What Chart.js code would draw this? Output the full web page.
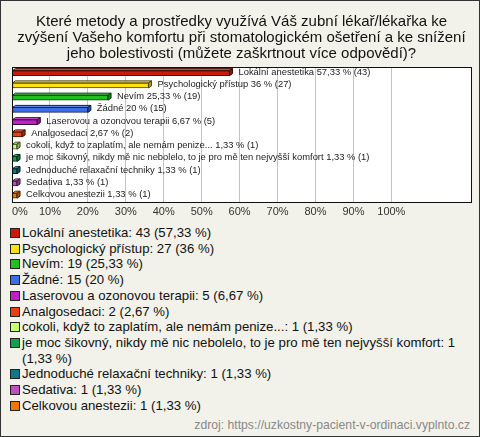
<!DOCTYPE html>
<html><head><meta charset="utf-8">
<script src="https://cdn.jsdelivr.net/npm/chart.js@4/dist/chart.umd.min.js"></script>
<style>
html,body{margin:0;padding:0;}
body{width:480px;height:437px;overflow:hidden;background:#fff;}
#wrap{position:relative;width:480px;height:437px;box-sizing:border-box;border:1px solid #333;background:#f3f2ea;font-family:"Liberation Sans",Arial,sans-serif;}
#cv{position:absolute;left:-1px;top:-1px;}
#legend{position:absolute;left:9px;top:224px;width:462px;font-size:13.2px;line-height:15.7px;color:#111;}
.it{display:flex;align-items:flex-start;}
.bx{flex:none;width:8px;height:8px;border:1px solid #222;margin:3px 2px 0 0;}
#src{position:absolute;right:9px;top:417px;font-size:12.2px;color:#888;}
</style></head>
<body><div id="wrap"><canvas id="cv" width="480" height="225"></canvas><div id="legend"></div><div id="src">zdroj: https://uzkostny-pacient-v-ordinaci.vyplnto.cz</div></div>
<script>
const titleLines = ["Které metody a prostředky využívá Váš zubní lékař/lékařka ke","zvýšení Vašeho komfortu při stomatologickém ošetření a ke snížení","jeho bolestivosti (můžete zaškrtnout více odpovědí)?"];
const categories = ["Lokální anestetika","Psychologický přístup","Nevím","Žádné","Laserovou a ozonovou terapii","Analgosedaci","cokoli, když to zaplatím, ale nemám penize...","je moc šikovný, nikdy mě nic nebolelo, to je pro mě ten nejvyšší komfort","Jednoduché relaxační techniky","Sedativa","Celkovou anestezii"];
const counts = [43,27,19,15,5,2,1,1,1,1,1];
const percents = [57.33,36,25.33,20,6.67,2.67,1.33,1.33,1.33,1.33,1.33];
const colors = ["#cc1a0a","#ffe010","#20c020","#3c6ee8","#c020c8","#e84010","#c8ff70","#10a050","#107888","#c050c0","#f07800"];
const tickValues = [0,10,20,30,40,50,60,70,80,90,100,120];

function fmt(p){return String(p).replace('.',',');}
function shade(hex,f){
  const n=parseInt(hex.slice(1),16);let r=n>>16,g=(n>>8)&255,b=n&255;
  if(f<0){r=Math.round(r*(1+f));g=Math.round(g*(1+f));b=Math.round(b*(1+f));}
  else{r=Math.round(r+(255-r)*f);g=Math.round(g+(255-g)*f);b=Math.round(b+(255-b)*f);}
  return `rgb(${r},${g},${b})`;
}

const bar3d = {
  id:'bar3d',
  beforeDraw(chart){
    const a=chart.chartArea,ctx=chart.ctx;
    ctx.save();ctx.fillStyle='#fff';ctx.fillRect(a.left,a.top,a.right-a.left,a.bottom-a.top);ctx.restore();
  },
  afterDatasetsDraw(chart){
    const ctx=chart.ctx,meta=chart.getDatasetMeta(0),dx=3,dy=2;
    ctx.save();
    meta.data.forEach((el,i)=>{
      const p=el.getProps(['x','y','base','height'],true);
      const l=Math.min(p.base,p.x),r=Math.max(p.base,p.x),t=p.y-p.height/2,b=p.y+p.height/2;
      const c=colors[i];
      ctx.lineWidth=1;ctx.strokeStyle=shade(c,-0.7);
      ctx.fillStyle=shade(c,0.25);
      ctx.beginPath();ctx.moveTo(l,t);ctx.lineTo(l+dx,t-dy);ctx.lineTo(r+dx,t-dy);ctx.lineTo(r,t);ctx.closePath();ctx.fill();ctx.stroke();
      ctx.fillStyle=shade(c,-0.3);
      ctx.beginPath();ctx.moveTo(r,t);ctx.lineTo(r+dx,t-dy);ctx.lineTo(r+dx,b-dy);ctx.lineTo(r,b);ctx.closePath();ctx.fill();ctx.stroke();
      ctx.fillStyle='#222';ctx.font='9.4px "Liberation Sans",Arial,sans-serif';ctx.textBaseline='middle';
      ctx.fillText(`${categories[i]} ${fmt(percents[i])} % (${counts[i]})`, r+dx+6, p.y-1);
    });
    ctx.restore();
  },
  afterDraw(chart){
    const a=chart.chartArea,ctx=chart.ctx;
    ctx.save();ctx.strokeStyle='#111';ctx.lineWidth=1;
    ctx.strokeRect(Math.round(a.left)+0.5,Math.round(a.top)+0.5,Math.round(a.right-a.left),Math.round(a.bottom-a.top));
    ctx.restore();
  }
};

new Chart(document.getElementById('cv'),{
  type:'bar',
  data:{labels:categories,datasets:[{data:percents,backgroundColor:colors,borderColor:colors.map(c=>shade(c,-0.7)),borderWidth:1,barThickness:5,borderSkipped:false}]},
  options:{
    indexAxis:'y',responsive:false,animation:false,
    layout:{padding:{left:12,right:9,top:0,bottom:2}},
    plugins:{legend:{display:false},tooltip:{enabled:false},
      title:{display:true,text:titleLines,color:'#111',font:{family:'"Liberation Sans",Arial,sans-serif',size:15,weight:'normal',lineHeight:16/15},padding:{top:14,bottom:5}}},
    scales:{
      x:{min:0,max:121,afterBuildTicks(ax){ax.ticks=tickValues.map(v=>({value:v}));},
        grid:{color:c=>(c.tick&&c.tick.value>100)?'rgba(0,0,0,0)':'#c4c4c4',drawTicks:false},border:{display:false},
        ticks:{align:'inner',padding:4,color:'#333',font:{family:'"Liberation Sans",Arial,sans-serif',size:11},callback:v=>v>100?'':v+'%'}},
      y:{display:false,grid:{display:false}}
    }
  },
  plugins:[bar3d]
});

const lg=document.getElementById('legend');
categories.forEach((c,i)=>{
  const d=document.createElement('div');d.className='it';
  const b=document.createElement('span');b.className='bx';b.style.background=colors[i];
  const t=document.createElement('span');t.textContent=`${c}: ${counts[i]} (${fmt(percents[i])} %)`;
  d.appendChild(b);d.appendChild(t);lg.appendChild(d);
});
</script></body></html>
